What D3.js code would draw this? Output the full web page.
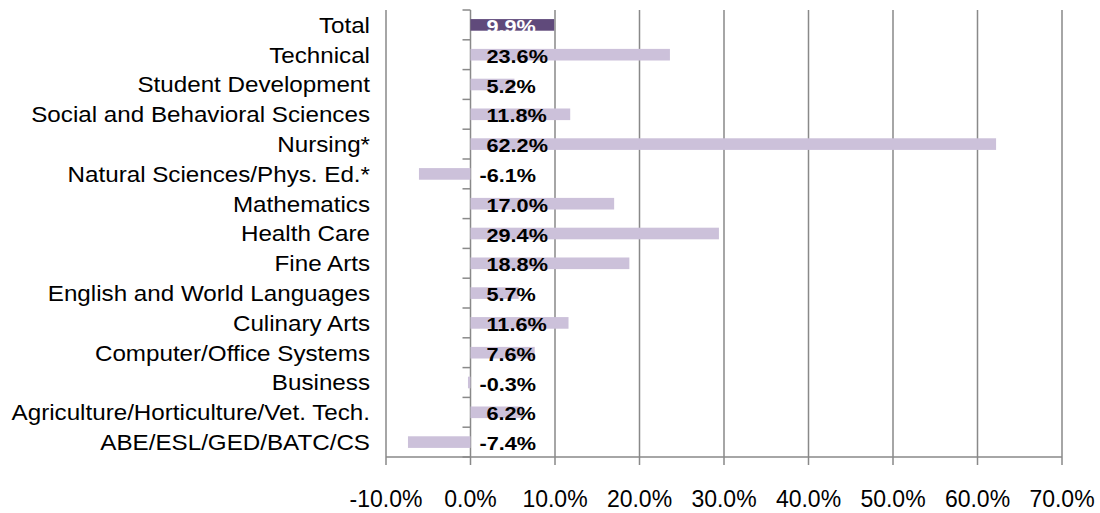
<!DOCTYPE html>
<html>
<head>
<meta charset="utf-8">
<script src="https://cdn.jsdelivr.net/npm/d3@7"></script>
<style>
  body { margin: 0; background: #fff; }
  svg { display: block; }
</style>
</head>
<body>
<svg id="chart" width="1100" height="513"></svg>
<script>
  // categories top to bottom, as in the picture
  let categories = ['Total', 'Technical', 'Student Development', 'Social and Behavioral Sciences', 'Nursing*',
    'Natural Sciences/Phys. Ed.*', 'Mathematics', 'Health Care', 'Fine Arts', 'English and World Languages',
    'Culinary Arts', 'Computer/Office Systems', 'Business', 'Agriculture/Horticulture/Vet. Tech.', 'ABE/ESL/GED/BATC/CS'];
  let values = [0.099, 0.236, 0.052, 0.118, 0.622, -0.061, 0.170, 0.294, 0.188, 0.057, 0.116, 0.076, -0.003, 0.062, -0.074];
  let xTicks = [-0.1, 0, 0.1, 0.2, 0.3, 0.4, 0.5, 0.6, 0.7];

  let svg = d3.select('#chart');

  let plot = {
    top: 10,
    bottom: 457,
    left: 386,
    right: 1062
  };

  let gridColor = '#898989';

  let xScale = d3.scaleLinear()
    .domain([-0.1, 0.7])
    .range([plot.left, plot.right]);

  let yScale = d3.scaleBand()
    .domain(categories)
    .range([plot.top, plot.bottom])
    .paddingInner(0.61)
    .paddingOuter(0.305);

  // band edges for the small ticks on the zero axis
  let edgeScale = d3.scaleLinear()
    .domain([0, categories.length])
    .range([plot.top, plot.bottom]);

  // plain hyphen for negatives, like the original
  let fmt = d => d3.format('.1%')(d).replace('\u2212', '-');

  // the original text is a bit stretched sideways
  let stretch = (x, y, s) => `translate(${x},${y}) scale(${s},1)`;

  // vertical gridlines
  svg.selectAll('.grid')
    .data(xTicks)
    .enter()
    .append('line')
    .attr('class', 'grid')
    .attr('x1', d => xScale(d))
    .attr('x2', d => xScale(d))
    .attr('y1', plot.top)
    .attr('y2', plot.bottom + 8)
    .attr('stroke', gridColor)
    .attr('stroke-width', 1.5);

  // bottom axis line
  svg.append('line')
    .attr('x1', plot.left)
    .attr('x2', plot.right)
    .attr('y1', plot.bottom)
    .attr('y2', plot.bottom)
    .attr('stroke', gridColor)
    .attr('stroke-width', 1.5);

  // ticks on the category axis (at zero)
  svg.selectAll('.ytick')
    .data(d3.range(categories.length + 1))
    .enter()
    .append('line')
    .attr('class', 'ytick')
    .attr('x1', xScale(0) - 8)
    .attr('x2', xScale(0))
    .attr('y1', d => edgeScale(d))
    .attr('y2', d => edgeScale(d))
    .attr('stroke', gridColor)
    .attr('stroke-width', 1.5);

  // bars
  svg.selectAll('.bar')
    .data(values)
    .enter()
    .append('rect')
    .attr('class', 'bar')
    .attr('x', d => xScale(Math.min(0, d)))
    .attr('width', d => Math.abs(xScale(d) - xScale(0)))
    .attr('y', (d, i) => yScale(categories[i]))
    .attr('height', yScale.bandwidth())
    .attr('fill', (d, i) => i == 0 ? '#604a7b' : '#ccc1da');

  // data labels
  svg.selectAll('.val')
    .data(values)
    .enter()
    .append('text')
    .attr('class', 'val')
    .attr('transform', (d, i) => stretch(xScale(0) + (d < 0 ? 9 : 16),
      yScale(categories[i]) + yScale.bandwidth() / 2 + 8, 1.14))
    .attr('font-family', 'Liberation Sans, Arial, sans-serif')
    .attr('font-weight', 'bold')
    .attr('font-size', '19px')
    .attr('fill', (d, i) => i == 0 ? '#fff' : '#000')
    .text(d => fmt(d));

  // category labels
  svg.selectAll('.cat')
    .data(categories)
    .enter()
    .append('text')
    .attr('class', 'cat')
    .attr('transform', d => stretch(plot.left - 16, yScale(d) + yScale.bandwidth() / 2, 1.1))
    .attr('dy', '0.36em')
    .attr('text-anchor', 'end')
    .attr('font-family', 'Liberation Sans, Arial, sans-serif')
    .attr('font-size', '22px')
    .attr('fill', '#000')
    .text(d => d);

  // x tick labels
  svg.selectAll('.xlab')
    .data(xTicks)
    .enter()
    .append('text')
    .attr('class', 'xlab')
    .attr('x', d => xScale(d))
    .attr('y', 507)
    .attr('text-anchor', 'middle')
    .attr('font-family', 'Liberation Sans, Arial, sans-serif')
    .attr('font-size', '23px')
    .attr('fill', '#000')
    .text(d => fmt(d));
</script>
</body>
</html>
